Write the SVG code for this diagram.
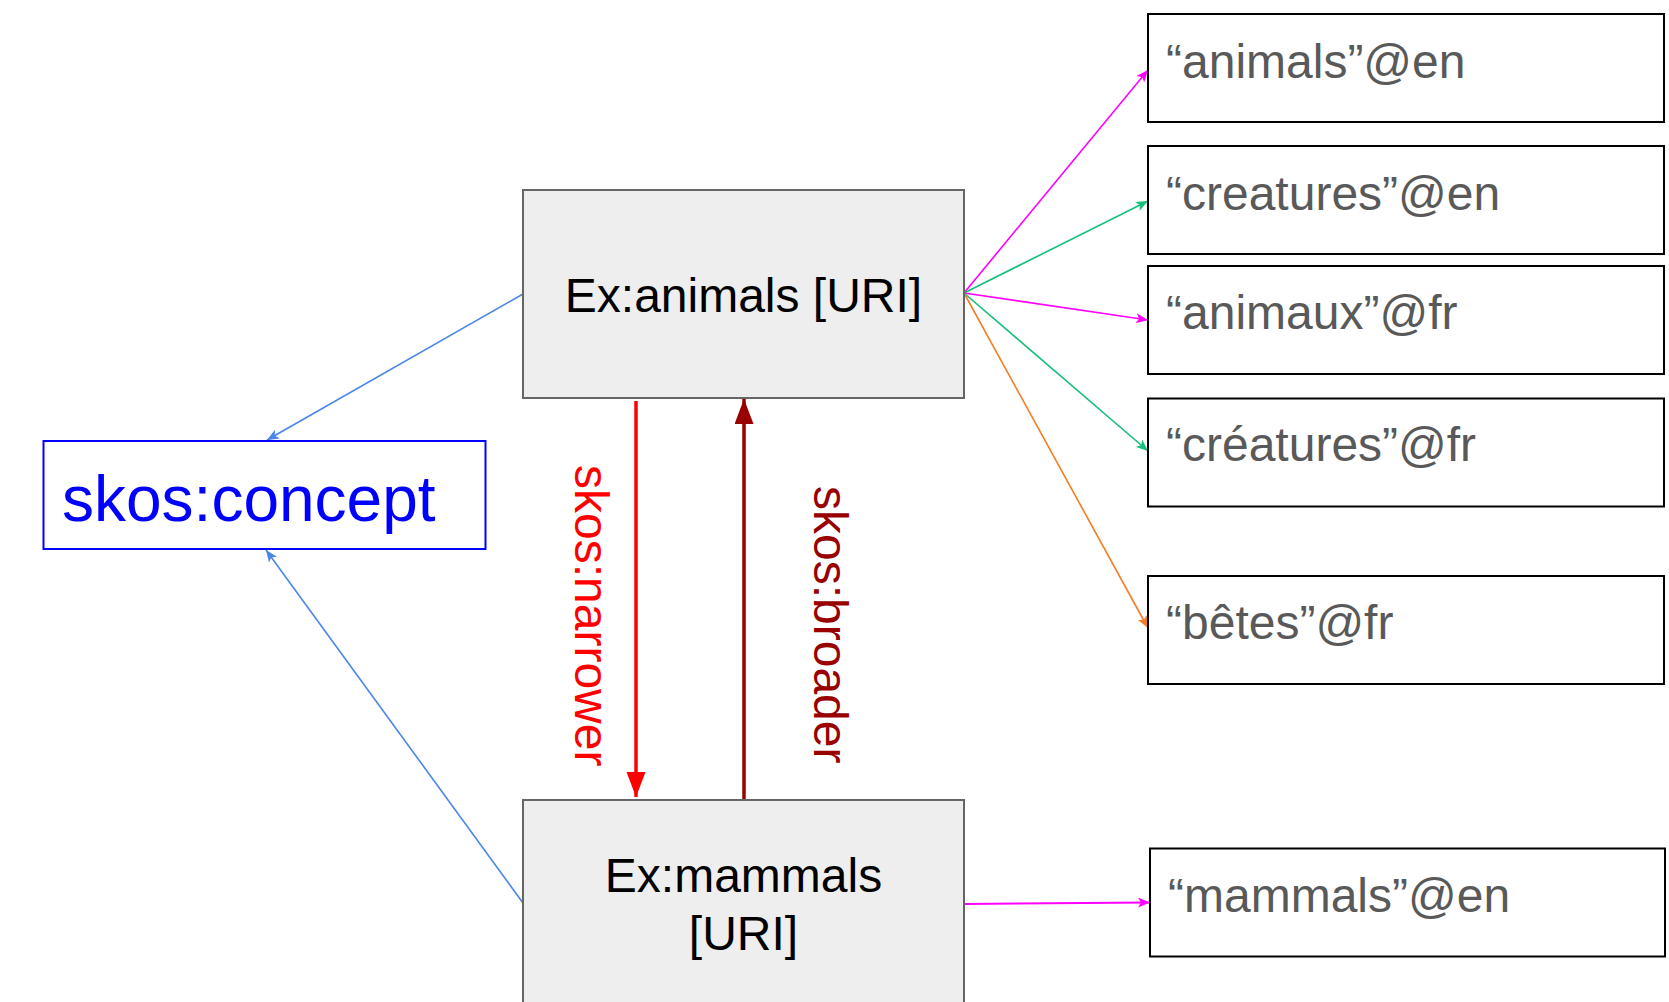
<svg xmlns="http://www.w3.org/2000/svg" width="1669" height="1002" viewBox="0 0 1669 1002">
<style>
text{font-family:"Liberation Sans",Arial,sans-serif}
.uri{fill:#eeeeee;stroke:#666666;stroke-width:2}
.lit{fill:#ffffff;stroke:#000000;stroke-width:2}
.lt{font-size:48px;fill:#595959}
.ut{font-size:48px;fill:#000000;text-anchor:middle}
.thin{fill:none;stroke-width:1.6}
</style>
<defs>
<marker id="aBlue" markerUnits="userSpaceOnUse" markerWidth="14" markerHeight="10" refX="12" refY="5" orient="auto"><path d="M0,0 L12,5 L0,10 L3,5 z" fill="#4a86e8"/></marker>
<marker id="aMag" markerUnits="userSpaceOnUse" markerWidth="14" markerHeight="10" refX="12" refY="5" orient="auto"><path d="M0,0 L12,5 L0,10 L3,5 z" fill="#ff00ff"/></marker>
<marker id="aGreen" markerUnits="userSpaceOnUse" markerWidth="14" markerHeight="10" refX="12" refY="5" orient="auto"><path d="M0,0 L12,5 L0,10 L3,5 z" fill="#16c07c"/></marker>
<marker id="aOrange" markerUnits="userSpaceOnUse" markerWidth="14" markerHeight="10" refX="12" refY="5" orient="auto"><path d="M0,0 L12,5 L0,10 L3,5 z" fill="#f57c22"/></marker>
<marker id="aRed" markerUnits="userSpaceOnUse" markerWidth="26" markerHeight="20" refX="25" refY="9.5" orient="auto"><path d="M0,0 L25,9.5 L0,19 z" fill="#ff0000"/></marker>
<marker id="aDark" markerUnits="userSpaceOnUse" markerWidth="26" markerHeight="20" refX="25" refY="9.5" orient="auto"><path d="M0,0 L25,9.5 L0,19 z" fill="#990000"/></marker>
</defs>

<g id="connectors">
<line class="thin" x1="523" y1="294" x2="267" y2="440" stroke="#4a86e8" marker-end="url(#aBlue)"/>
<line class="thin" x1="523" y1="903" x2="266" y2="550" stroke="#4a86e8" marker-end="url(#aBlue)"/>
<line x1="636" y1="401" x2="636" y2="797" stroke="#ff0000" stroke-width="3.5" marker-end="url(#aRed)"/>
<line x1="744" y1="799" x2="744" y2="399" stroke="#990000" stroke-width="3.5" marker-end="url(#aDark)"/>
<line class="thin" x1="964" y1="293" x2="1148" y2="70" stroke="#ff00ff" marker-end="url(#aMag)"/>
<line class="thin" x1="964" y1="293" x2="1148" y2="201" stroke="#16c07c" marker-end="url(#aGreen)"/>
<line class="thin" x1="964" y1="293" x2="1148" y2="320" stroke="#ff00ff" marker-end="url(#aMag)"/>
<line class="thin" x1="964" y1="293" x2="1148" y2="451" stroke="#16c07c" marker-end="url(#aGreen)"/>
<line class="thin" x1="964" y1="293" x2="1148" y2="628" stroke="#f57c22" marker-end="url(#aOrange)"/>
<line x1="965" y1="904" x2="1150" y2="902.5" stroke="#ff00ff" stroke-width="2" marker-end="url(#aMag)"/>
<text transform="translate(575,465) rotate(90)" font-size="48" fill="#ff0000">skos:narrower</text>
<text transform="translate(814,486) rotate(90)" font-size="48" fill="#990000">skos:broader</text>
</g>

<g id="skos-concept">
<rect x="43.5" y="441" width="442" height="108" fill="#ffffff" stroke="#0000ff" stroke-width="2"/>
<text x="62" y="521" font-size="64" fill="#0000ff">skos:concept</text>
</g>

<g id="ex-animals">
<rect class="uri" x="523" y="190" width="441" height="208"/>
<text class="ut" x="743.5" y="312">Ex:animals [URI]</text>
</g>

<g id="ex-mammals">
<rect class="uri" x="523" y="800" width="441" height="215"/>
<text class="ut" x="743.5" y="892">Ex:mammals</text>
<text class="ut" x="743.5" y="950">[URI]</text>
</g>

<g id="lit-animals-en">
<rect class="lit" x="1148" y="14" width="516" height="108"/>
<text class="lt" x="1166" y="78">“animals”@en</text>
</g>
<g id="lit-creatures-en">
<rect class="lit" x="1148" y="146" width="516" height="108"/>
<text class="lt" x="1166" y="210">“creatures”@en</text>
</g>
<g id="lit-animaux-fr">
<rect class="lit" x="1148" y="266" width="516" height="108"/>
<text class="lt" x="1166" y="329">“animaux”@fr</text>
</g>
<g id="lit-creatures-fr">
<rect class="lit" x="1148" y="398.5" width="516" height="108"/>
<text class="lt" x="1166" y="461">“créatures”@fr</text>
</g>
<g id="lit-betes-fr">
<rect class="lit" x="1148" y="576" width="516" height="108"/>
<text class="lt" x="1166" y="639">“bêtes”@fr</text>
</g>
<g id="lit-mammals-en">
<rect class="lit" x="1150" y="848.5" width="515" height="108"/>
<text class="lt" x="1168" y="912">“mammals”@en</text>
</g>
</svg>
